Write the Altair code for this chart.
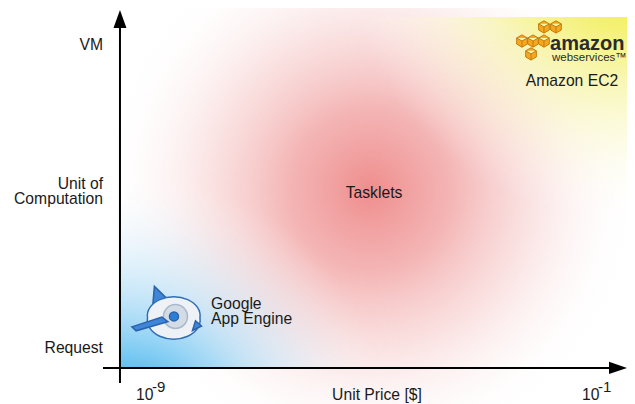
import altair as alt
import pandas as pd

# ---------------- data (x = log10 unit price [$], y = granularity level) ----------------
X_DOMAIN = [-11.541, -0.463]
Y_DOMAIN = [-0.370, 2.244]
W, H = 619, 396

# axis geometry
axis_origin_x = -9.537
axis_origin_y = -0.132
yaxis_from = -0.231
yaxis_to = 2.152
yarrow_y = 2.172
xaxis_from = -9.841
xaxis_to = -0.66
xarrow_x = -0.624

# shaded regions (Tasklets / Google App Engine / Amazon EC2)
region_names = ["Tasklets", "Google App Engine", "Amazon EC2"]
region_x0 = [-9.895, -9.537, -9.537]
region_x1 = [-0.230, -0.409, -0.409]
region_y0 = [-0.739, -0.132, -0.132]
region_y1 = [2.825, 2.185, 2.185]

# y-axis category labels
ylab_text = ["VM", "Unit of\nComputation", "Request"]
ylab_y = [1.967, 1.050, -0.033]
ylab_x = -9.841

# x-axis tick labels (10^exp)
tick_base = ["10", "10"]
tick_exp = ["-9", "-1"]
tick_x = [-9.251, -1.268]
tick_exp_x = [-8.964, -0.982]
tick_y = -0.343
tick_exp_y = -0.290

x_title = "Unit Price [$]"
x_title_x = -4.937

# region labels
center_text = ["Tasklets", "Amazon EC2"]
center_x = [-4.991, -1.447]
center_y = [0.990, 1.729]
left_text = ["Google\nApp Engine"]
left_x = [-7.908]
left_y = [0.257]

# logos
aws_word = ["amazon"]
aws_word_x = [-1.841]
aws_word_y = [1.967]
aws_sub = ["webservices™"]
aws_sub_x = [-1.805]
aws_sub_y = [1.895]
cube_x = [-1.949, -1.734, -2.342, -2.145, -1.949, -2.181]
cube_y = [2.119, 2.119, 2.026, 2.026, 2.026, 1.941]
gae_x = -8.642
gae_y = 0.238

FONT = "Liberation Sans"
TXT = "#1a1a1a"
FS = 15.7

xs = alt.Scale(domain=X_DOMAIN, nice=False, zero=False)
ys = alt.Scale(domain=Y_DOMAIN, nice=False, zero=False)


def X(f="x"):
    return alt.X(f"{f}:Q", scale=xs, axis=None)


def Y(f="y"):
    return alt.Y(f"{f}:Q", scale=ys, axis=None)


regions = pd.DataFrame({"name": region_names, "x": region_x0, "x2": region_x1,
                        "y": region_y0, "y2": region_y1})


def grad(cx, cy, r, stops):
    return {"gradient": "radial", "x1": cx, "y1": cy, "r1": 0, "x2": cx, "y2": cy, "r2": r,
            "stops": [{"offset": o, "color": c} for o, c in stops]}


red = grad(0.5, 0.5, 0.5, [(0, "rgba(238,135,135,0.95)"), (0.3, "rgba(241,160,160,0.78)"),
                           (0.62, "rgba(246,198,198,0.45)"), (1, "rgba(255,255,255,0)")])
blue = grad(0, 1, 0.54, [(0, "rgba(22,166,236,1)"), (0.25, "rgba(60,178,238,0.9)"),
                         (0.55, "rgba(160,214,245,0.6)"), (1, "rgba(255,255,255,0)")])
yellow = grad(1, 0, 0.56, [(0, "rgba(238,234,20,1)"), (0.25, "rgba(241,237,70,0.9)"),
                           (0.55, "rgba(246,244,160,0.65)"), (1, "rgba(255,255,255,0)")])


def region_layer(name, g):
    return alt.Chart(regions).transform_filter(alt.datum.name == name).mark_rect(
        fill=g, strokeWidth=0).encode(x=X(), x2="x2:Q", y=Y(), y2="y2:Q")


layers = [
    region_layer("Tasklets", red),
    region_layer("Google App Engine", blue),
    region_layer("Amazon EC2", yellow),
]

# axes
axes_df = pd.DataFrame({"x": [axis_origin_x], "y": [yaxis_from], "y2": [yaxis_to]})
layers.append(alt.Chart(axes_df).mark_rule(color="black", strokeWidth=2).encode(
    x=X(), y=Y(), y2="y2:Q"))
xaxis_df = pd.DataFrame({"x": [xaxis_from], "x2": [xaxis_to], "y": [axis_origin_y]})
layers.append(alt.Chart(xaxis_df).mark_rule(color="black", strokeWidth=2).encode(
    x=X(), x2="x2:Q", y=Y()))
arrows = pd.DataFrame({"x": [axis_origin_x, xarrow_x], "y": [yarrow_y, axis_origin_y],
                       "shape": ["M0,-1L0.72,1L-0.72,1Z", "M1,0L-1,-0.68L-1,0.68Z"]})
layers.append(alt.Chart(arrows).mark_point(filled=True, size=324, color="black", opacity=1).encode(
    x=X(), y=Y(), shape=alt.Shape("shape:N", scale=None)))


def text_layer(df, align, size=FS, **kw):
    return alt.Chart(df).mark_text(align=align, baseline="alphabetic", font=FONT, fontSize=size,
                                   color=kw.pop("color", TXT), lineBreak="\n", lineHeight=15,
                                   **kw).encode(x=X(), y=Y(), text="t:N")


# y labels
ylab = pd.DataFrame({"t": ylab_text, "y": ylab_y, "x": [ylab_x] * len(ylab_text)})
layers.append(text_layer(ylab, "right"))

# tick labels
ticks = pd.DataFrame({"t": tick_base, "x": tick_x, "y": [tick_y] * 2})
layers.append(text_layer(ticks, "left"))
texp = pd.DataFrame({"t": tick_exp, "x": tick_exp_x, "y": [tick_exp_y] * 2})
layers.append(text_layer(texp, "left", size=15))
xt = pd.DataFrame({"t": [x_title], "x": [x_title_x], "y": [tick_y]})
layers.append(text_layer(xt, "center"))

# region labels
ct = pd.DataFrame({"t": center_text, "x": center_x, "y": center_y})
layers.append(text_layer(ct, "center"))
lt = pd.DataFrame({"t": left_text, "x": left_x, "y": left_y})
layers.append(text_layer(lt, "left"))

# AWS logo
cube_path = ("M0,-1L0.87,-0.5L0.87,0.5L0,1L-0.87,0.5L-0.87,-0.5Z"
             "M-0.87,-0.5L0,0L0.87,-0.5M0,0L0,1")
cubes = pd.DataFrame({"x": cube_x, "y": cube_y})
layers.append(alt.Chart(cubes).mark_point(shape=cube_path, filled=True, size=150, fill="#f5a81f",
                                          stroke="#c27c0c", strokeWidth=1, opacity=1).encode(
    x=X(), y=Y()))
aw = pd.DataFrame({"t": aws_word, "x": aws_word_x, "y": aws_word_y})
layers.append(text_layer(aw, "left", size=20, fontWeight="bold", color="#2b2b2b"))
asub = pd.DataFrame({"t": aws_sub, "x": aws_sub_x, "y": aws_sub_y})
layers.append(text_layer(asub, "left", size=11.5, color="#2b2b2b"))

# Google App Engine logo (shapes relative to the logo centre)
gae_parts = pd.DataFrame({
    "shape": [
        "M-0.52,-0.85L0.15,-0.2L-0.6,0.1Z",
        "M-0.75,0.2A0.88,0.64,0,1,0,1.0,0.2A0.88,0.64,0,1,0,-0.75,0.2Z",
        "M0.85,0.3L1.05,0.47L0.75,0.62Z",
        "M-0.217,0.15A0.4,0.4,0,1,0,0.583,0.15A0.4,0.4,0,1,0,-0.217,0.15Z",
        "M-0.017,0.15A0.15,0.15,0,1,0,0.283,0.15A0.15,0.15,0,1,0,-0.017,0.15Z",
        "M-1.27,0.5L-0.27,0.17L-0.07,0.33L-1.13,0.63Z",
    ],
    "fill": ["#3f86d8", "#eef2f7", "#3f86d8", "#d3dbe5", "#2a7fd4", "#3f86d8"],
    "stroke": ["#2a62ad", "#2f6db5", "#2a62ad", "#a9b8ca", "#2a62ad", "#2a62ad"],
})
gae_parts["x"] = gae_x
gae_parts["y"] = gae_y
layers.append(alt.Chart(gae_parts).mark_point(filled=True, size=3600, strokeWidth=1.5, opacity=1).encode(
    x=X(), y=Y(),
    shape=alt.Shape("shape:N", scale=None),
    fill=alt.Fill("fill:N", scale=None),
    stroke=alt.Stroke("stroke:N", scale=None),
))

chart = alt.layer(*layers).properties(
    width=W, height=H, autosize=alt.AutoSizeParams(type="none"), padding=0, background="white"
).configure_view(stroke=None)

chart.save("out.html", embed_options={"renderer": "svg", "actions": False})
